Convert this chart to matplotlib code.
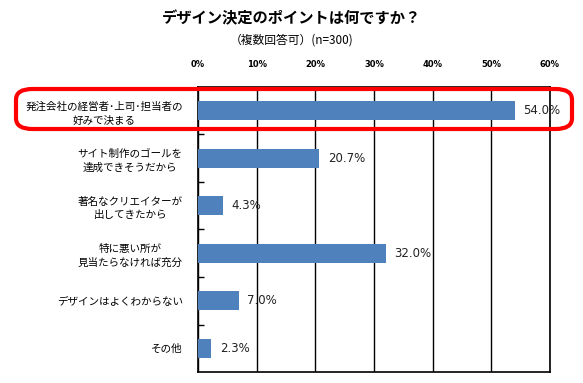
import matplotlib.pyplot as plt
from matplotlib.patches import FancyBboxPatch

plt.rcParams['font.family'] = ['Noto Sans CJK JP', 'DejaVu Sans']

# dados do grafico
categorias = ['発注会社の経営者･上司･担当者の\n好みで決まる',
              'サイト制作のゴールを\n達成できそうだから',
              '著名なクリエイターが\n出してきたから',
              '特に悪い所が\n見当たらなければ充分',
              'デザインはよくわからない',
              'その他']
valores = [54.0, 20.7, 4.3, 32.0, 7.0, 2.3]
ticks_x = [0, 10, 20, 30, 40, 50, 60]
rotulos_x = ['0%', '10%', '20%', '30%', '40%', '50%', '60%']

fig = plt.figure(figsize=(5.83, 3.83), dpi=100)
ax = fig.add_axes([198/583, 1-372/383, 352/583, 285/383])

pos = list(range(len(categorias)))
ax.barh(pos, valores, height=0.4, color='#4F81BD', zorder=3)
for p, v in zip(pos, valores):
    ax.text(v + 1.4, p, f'{v:.1f}%', va='center', ha='left', fontsize=8.5,
            color='#222222', family='DejaVu Sans')

ax.set_xlim(0, 60)
ax.set_ylim(len(categorias) - 0.5, -0.5)
ax.set_xticks(ticks_x)
ax.set_xticklabels(rotulos_x, fontsize=6, fontweight='bold', family='DejaVu Sans')
ax.xaxis.tick_top()
ax.tick_params(axis='x', length=0, pad=13)
ax.grid(axis='x', color='black', linewidth=1, zorder=1)

ax.set_yticks(pos)
ax.set_yticklabels(categorias, fontsize=7.6, ma='center', linespacing=1.45)
ax.tick_params(axis='y', which='major', length=0, pad=11)
ax.set_yticks([p + 0.5 for p in pos[:-1]], minor=True)
ax.tick_params(axis='y', which='minor', length=4, direction='in', width=1)
for s in ax.spines.values():
    s.set_linewidth(1.2)
    s.set_color('black')

# caixa vermelha destacando o primeiro item
caixa = FancyBboxPatch((16/583, 1-129/383), 556/583, 40/383,
                       boxstyle='round,pad=0,rounding_size=0.028',
                       transform=fig.transFigure, fill=False,
                       edgecolor='#FF0000', linewidth=3, zorder=10)
fig.patches.append(caixa)

fig.text(0.5, 1-18/383, 'デザイン決定のポイントは何ですか？', ha='center', va='center',
         fontsize=11, fontweight='bold')
fig.text(0.5, 1-40/383, '（複数回答可）(n=300)', ha='center', va='center', fontsize=8.5)

fig.savefig('out.png', dpi=100)
